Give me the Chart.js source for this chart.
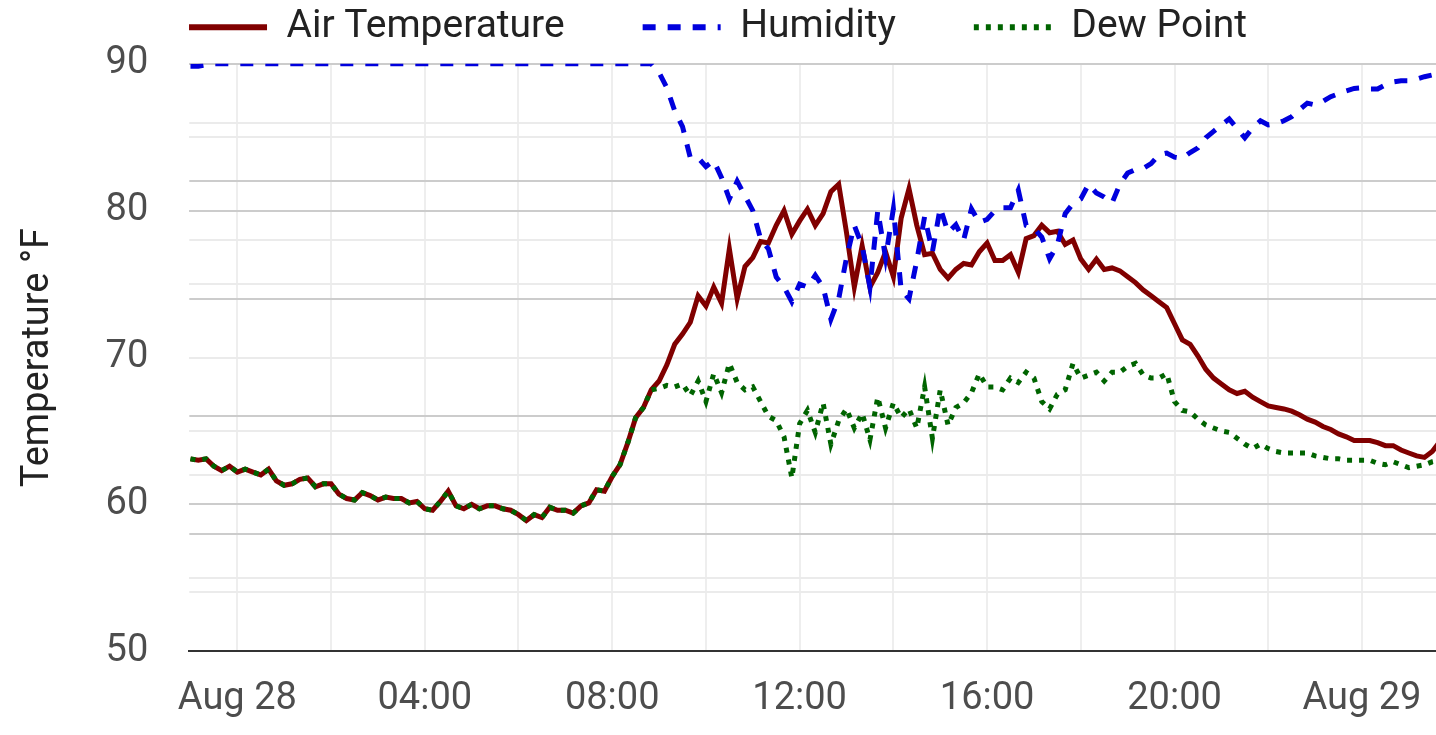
<!DOCTYPE html>
<html lang="en">
<head>
<meta charset="utf-8">
<title>Air Temperature, Humidity and Dew Point</title>
<script src="https://cdn.jsdelivr.net/npm/chart.js@4/dist/chart.umd.min.js"></script>
<style>
    html, body { margin: 0; padding: 0; background: #ffffff; }
    .chart-wrap { position: relative; width: 1436px; height: 735px; }
</style>
</head>
<body>
<div class="chart-wrap"><canvas id="weatherChart"></canvas></div>
<script>
// Readings every 10 minutes, hours counted from Aug 28 00:00
const START_HOUR = -1;
const STEP_HOURS = 1 / 6;

// Visible time window (hours)
const X_MIN = -1.025;
const X_MAX = 25.58;

// Vertical grid every 2 hours, labels every 4 hours
const gridHours = [0, 2, 4, 6, 8, 10, 12, 14, 16, 18, 20, 22, 24];
const labelHours = [0, 4, 8, 12, 16, 20, 24];
const tickLabels = ['Aug 28', '04:00', '08:00', '12:00', '16:00', '20:00', 'Aug 29'];

// Air temperature (°F)
const airTemp = [
    63.1, 63.0, 63.1, 62.6, 62.3, 62.6, 62.2, 62.4, 62.2, 62.0,
    62.4, 61.6, 61.3, 61.4, 61.7, 61.8, 61.2, 61.4, 61.4, 60.7,
    60.4, 60.3, 60.8, 60.6, 60.3, 60.5, 60.4, 60.4, 60.1, 60.2,
    59.7, 59.6, 60.2, 60.9, 59.9, 59.7, 60.0, 59.7, 59.9, 59.9,
    59.7, 59.6, 59.3, 58.9, 59.3, 59.1, 59.8, 59.6, 59.6, 59.4,
    59.9, 60.1, 61.0, 60.9, 61.9, 62.7, 64.2, 65.9, 66.6, 67.8,
    68.4, 69.5, 70.9, 71.6, 72.4, 74.2, 73.5, 74.8, 73.7, 77.4,
    74.0, 76.2, 76.8, 77.9, 77.8, 79.0, 80.0, 78.4, 79.3, 80.1,
    79.0, 79.8, 81.3, 81.8, 78.5, 74.8, 77.6, 74.8, 75.8, 77.2,
    75.5, 79.5, 81.5, 79.0, 77.0, 77.1, 76.0, 75.4, 76.0, 76.4,
    76.3, 77.2, 77.8, 76.6, 76.6, 77.0, 75.8, 78.1, 78.3, 79.0,
    78.5, 78.6, 77.7, 78.0, 76.7, 76.0, 76.7, 76.0, 76.1, 75.9,
    75.5, 75.1, 74.6, 74.2, 73.8, 73.4, 72.3, 71.2, 70.9, 70.1,
    69.2, 68.6, 68.2, 67.8, 67.55, 67.7, 67.3, 67.0, 66.7, 66.6,
    66.5, 66.35, 66.1, 65.8, 65.6, 65.3, 65.1, 64.8, 64.6, 64.35,
    64.35, 64.35, 64.2, 64.0, 64.0, 63.7, 63.5, 63.3, 63.2, 63.6,
    64.3
];

// Relative humidity (%), plotted on its own hidden 0-100 axis
const humidity = [
    99.6, 99.6, 99.8, 100, 100, 100, 100, 100, 100, 100,
    100, 100, 100, 100, 100, 100, 100, 100, 100, 100,
    100, 100, 100, 100, 100, 100, 100, 100, 100, 100,
    100, 100, 100, 100, 100, 100, 100, 100, 100, 100,
    100, 100, 100, 100, 100, 100, 100, 100, 100, 100,
    100, 100, 100, 100, 100, 100, 100, 100, 100, 100,
    98.5, 95.9, 92.0, 89.3, 84.0, 84.0, 82.5, 83.5, 80.6, 77.0,
    80.0, 77.5, 75.0, 70.2, 68.5, 63.7, 62.0, 59.5, 62.5, 62.0,
    64.0, 62.0, 56.5, 60.0, 67.0, 72.5, 69.0, 62.0, 75.0, 67.0,
    75.3, 61.5, 60.0, 66.5, 74.0, 68.0, 75.5, 71.3, 72.6, 70.0,
    75.3, 73.0, 73.5, 75.0, 75.5, 75.5, 78.5, 72.5, 72.0, 70.5,
    66.8, 69.2, 74.5, 76.2, 77.0, 79.5, 78.0, 77.3, 76.3, 79.5,
    81.4, 82.0, 82.2, 83.0, 84.5, 84.8, 84.1, 83.9, 84.9, 85.7,
    87.4, 88.5, 89.6, 90.6, 89.0, 87.4, 89.1, 90.3, 89.6, 89.8,
    90.3, 91.0, 92.2, 93.3, 93.0, 93.6, 94.4, 94.9, 95.4, 95.8,
    95.9, 95.7, 95.7, 96.4, 96.9, 97.1, 97.1, 97.4, 97.8, 98.1,
    98.4
];

// Dew point (°F)
const dewPoint = [
    63.1, 63.0, 63.1, 62.6, 62.3, 62.6, 62.2, 62.4, 62.2, 62.0,
    62.4, 61.6, 61.3, 61.4, 61.7, 61.8, 61.2, 61.4, 61.4, 60.7,
    60.4, 60.3, 60.8, 60.6, 60.3, 60.5, 60.4, 60.4, 60.1, 60.2,
    59.7, 59.6, 60.2, 60.9, 59.9, 59.7, 60.0, 59.7, 59.9, 59.9,
    59.7, 59.6, 59.3, 58.9, 59.3, 59.1, 59.8, 59.6, 59.6, 59.4,
    59.9, 60.1, 61.0, 60.9, 61.9, 62.7, 64.2, 65.9, 66.6, 67.8,
    67.9, 68.1, 68.0, 68.2, 67.4, 68.4, 67.0, 68.9, 67.6, 69.6,
    68.3, 67.8, 68.0, 67.0, 66.0, 65.7, 64.6, 61.8, 65.5, 66.4,
    64.9, 66.9, 64.1, 65.7, 66.5, 65.2, 66.2, 64.4, 67.3, 65.2,
    66.9, 65.9, 66.5, 65.2, 68.0, 64.5, 67.8, 65.4, 66.6, 66.9,
    67.6, 68.9, 68.0, 68.0, 67.8, 68.6, 68.3, 69.0, 68.6, 67.0,
    66.5, 67.5, 67.8, 69.6, 68.6, 68.8, 69.0, 68.4, 69.0, 69.0,
    69.4, 69.6, 68.8, 68.6, 68.6, 68.9, 67.0, 66.4, 66.3, 65.8,
    65.4, 65.2, 65.0, 64.9, 64.5, 64.1, 63.8, 64.1, 63.8, 63.6,
    63.5, 63.5, 63.5, 63.5, 63.3, 63.2, 63.1, 63.1, 63.0, 63.0,
    63.0, 63.0, 62.8, 62.7, 62.9, 62.7, 62.5, 62.6, 62.7, 62.9,
    63.0
];

const MAJOR_GRID = '#cccccc';
const MINOR_GRID = '#ebebeb';
const TEXT_DARK = '#222222';
const TEXT_TICK = '#4d4d4d';

Chart.defaults.font.family = 'Roboto, "Noto Sans", sans-serif';

// Pair each reading with its time stamp
function toPoints(values) {
    return values.map((v, i) => ({ x: START_HOUR + i * STEP_HOURS, y: v }));
}

// Temperature grid: 90, 80 and 60 darker, the rest light, 50 hidden behind the axis line
function tempGridColor(value) {
    if (value === 50) return 'rgba(0,0,0,0)';
    if (value === 90 || value === 80 || value === 60) return MAJOR_GRID;
    return MINOR_GRID;
}

// Humidity grid: every 20 % darker, every 10 % light
function humidityGridColor(value) {
    if (value === 0) return 'rgba(0,0,0,0)';
    if (value === 50) return MINOR_GRID;
    return value % 20 === 0 ? MAJOR_GRID : MINOR_GRID;
}

// Legend samples: point-style items lose the dataset dash, so copy it back
function legendLabels(chart) {
    const items = Chart.defaults.plugins.legend.labels.generateLabels(chart);
    items.forEach(item => {
        const ds = chart.data.datasets[item.datasetIndex];
        item.lineDash = ds.borderDash || [];
        item.lineWidth = 6;
        item.strokeStyle = ds.borderColor;
    });
    return items;
}

// Keep the legend row near the top edge, above the plot
const legendNudge = {
    id: 'legendNudge',
    afterLayout(chart) {
        const legend = chart.legend;
        if (!legend) return;
        const shift = -7;
        legend.top += shift;
        legend.bottom += shift;
    }
};

function initializeChart() {
    const ctx = document.getElementById('weatherChart');

    new Chart(ctx, {
        type: 'line',
        data: {
            datasets: [{
                label: 'Air Temperature',
                data: toPoints(airTemp),
                yAxisID: 'y',
                borderColor: '#800000',
                backgroundColor: '#800000',
                borderWidth: 5,
                order: 3
            }, {
                label: 'Humidity',
                data: toPoints(humidity),
                yAxisID: 'humidity',
                borderColor: '#0000dd',
                backgroundColor: '#0000dd',
                borderWidth: 5,
                borderDash: [13, 12],
                order: 2
            }, {
                label: 'Dew Point',
                data: toPoints(dewPoint),
                yAxisID: 'y',
                borderColor: '#006400',
                backgroundColor: '#006400',
                borderWidth: 5,
                borderDash: [5, 7],
                order: 1
            }]
        },
        options: {
            responsive: true,
            maintainAspectRatio: false,
            animation: false,
            events: [],
            elements: {
                point: { radius: 0 },
                line: { tension: 0, borderCapStyle: 'butt' }
            },
            layout: {
                padding: { top: -73, right: 0, bottom: -12, left: 0 }
            },
            plugins: {
                tooltip: { enabled: false },
                legend: {
                    position: 'top',
                    labels: {
                        usePointStyle: true,
                        pointStyle: 'line',
                        pointStyleWidth: 78,
                        padding: 78,
                        color: TEXT_DARK,
                        font: { size: 39 },
                        generateLabels: legendLabels,
                        sort: (a, b) => a.datasetIndex - b.datasetIndex
                    }
                }
            },
            scales: {
                x: {
                    type: 'linear',
                    min: X_MIN,
                    max: X_MAX,
                    afterBuildTicks: (scale) => {
                        scale.ticks = gridHours.map(h => ({ value: h }));
                    },
                    ticks: {
                        autoSkip: false,
                        maxRotation: 0,
                        padding: 0,
                        color: TEXT_TICK,
                        font: { size: 38, lineHeight: 2.52 },
                        callback: (value) => {
                            const k = labelHours.indexOf(value);
                            return k >= 0 ? tickLabels[k] : '';
                        }
                    },
                    grid: { color: '#eeeeee', lineWidth: 2, drawTicks: false },
                    border: { display: true, color: '#333333', width: 2 }
                },
                y: {
                    position: 'left',
                    min: 50,
                    max: 90,
                    ticks: {
                        stepSize: 5,
                        padding: 41,
                        color: TEXT_TICK,
                        font: { size: 38 },
                        callback: (value) => value % 10 === 0 ? String(value) : ''
                    },
                    grid: {
                        drawTicks: false,
                        lineWidth: 2,
                        color: (c) => tempGridColor(c.tick.value)
                    },
                    border: { display: false },
                    title: {
                        display: true,
                        text: 'Temperature °F',
                        color: TEXT_DARK,
                        font: { size: 38 },
                        padding: { top: 16, bottom: 3 }
                    }
                },
                humidity: {
                    position: 'right',
                    min: 0,
                    max: 100,
                    ticks: { display: false, stepSize: 10 },
                    grid: {
                        drawTicks: false,
                        lineWidth: 2,
                        color: (c) => humidityGridColor(c.tick.value)
                    },
                    border: { display: false }
                }
            }
        },
        plugins: [legendNudge]
    });
}

document.addEventListener('DOMContentLoaded', initializeChart);
</script>
</body>
</html>
